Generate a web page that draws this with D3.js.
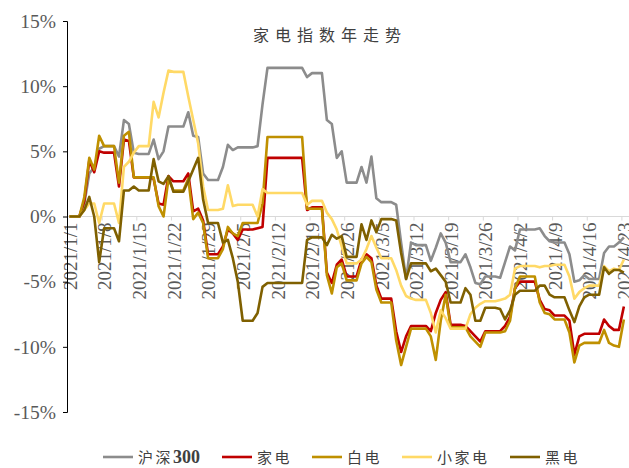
<!DOCTYPE html>
<html><head><meta charset="utf-8">
<script src="https://cdn.jsdelivr.net/npm/d3@7"></script>
<style>body{margin:0;background:#fff;} svg{display:block;}</style>
</head><body><svg id="c" width="629" height="468"></svg>
<script>
const title = "家电指数年走势";
const seriesNames = ["沪深300","家电","白电","小家电","黑电"];
const yTicks = [15,10,5,0,-5,-10,-15];
const xTickDates = ["2021-01-01","2021-01-08","2021-01-15","2021-01-22","2021-01-29","2021-02-05","2021-02-12","2021-02-19","2021-02-26","2021-03-05","2021-03-12","2021-03-19","2021-03-26","2021-04-02","2021-04-09","2021-04-16","2021-04-23"];
const dates = ["2021-01-01","2021-01-04","2021-01-05","2021-01-06","2021-01-07","2021-01-08",
"2021-01-11","2021-01-12","2021-01-13","2021-01-14","2021-01-15",
"2021-01-18","2021-01-19","2021-01-20","2021-01-21","2021-01-22",
"2021-01-25","2021-01-26","2021-01-27","2021-01-28","2021-01-29",
"2021-02-01","2021-02-02","2021-02-03","2021-02-04","2021-02-05",
"2021-02-08","2021-02-09","2021-02-10",
"2021-02-18","2021-02-19",
"2021-02-22","2021-02-23","2021-02-24","2021-02-25","2021-02-26",
"2021-03-01","2021-03-02","2021-03-03","2021-03-04","2021-03-05",
"2021-03-08","2021-03-09","2021-03-10","2021-03-11","2021-03-12",
"2021-03-15","2021-03-16","2021-03-17","2021-03-18","2021-03-19",
"2021-03-22","2021-03-23","2021-03-24","2021-03-25","2021-03-26",
"2021-03-29","2021-03-30","2021-03-31","2021-04-01","2021-04-02",
"2021-04-06","2021-04-07","2021-04-08","2021-04-09",
"2021-04-12","2021-04-13","2021-04-14","2021-04-15","2021-04-16",
"2021-04-19","2021-04-20","2021-04-21","2021-04-22","2021-04-23"];
const hs300 = [0, 1.0,3.3,3.8,5.2,5.4,
 4.6,7.4,7.1,4.9,4.8,
 5.9,4.4,5.0,6.9,6.9,
 8.0,6.2,6.1,3.3,2.8,
 3.8,5.5,5.1,5.3,5.3,
 5.4,8.6,11.4,
 10.7,11.0,
 7.4,7.1,4.5,5.0,2.6,
 3.8,2.6,4.6,1.4,1.1,
 0.9,-2.0,-4.8,-2.0,-2.2,
 -3.4,-2.4,-1.3,-2.0,-3.5,
 -2.9,-3.9,-5.1,-5.2,-4.6,
 -4.7,-3.5,-2.3,-2.6,-1.0,
 -0.9,-1.5,-1.9,-2.0,
 -2.9,-5.0,-4.9,-4.5,-4.8,
 -2.8,-2.3,-2.3,-2.0,-1.6];
const jiadian = [0, 1.2,4.3,3.4,5.0,4.9,
 2.3,5.9,5.8,3.0,3.0,
 2.9,1.0,0.9,3.1,2.7,
 3.3,0.4,0.6,-0.3,-2.9,
 -2.3,-1.0,-1.3,-1.8,-1.0,
 -0.9,-0.8,4.5,
 0.5,0.7,
 -4.3,-5.1,-3.7,-3.3,-4.6,
 -3.3,-2.9,-3.2,-5.3,-6.3,
 -8.8,-10.4,-9.2,-8.4,-8.4,
 -8.8,-7.4,-6.4,-5.8,-8.3,
 -8.4,-8.8,-9.2,-9.6,-8.8,
 -8.8,-8.4,-7.7,-5.5,-5.0,
 -6.4,-7.1,-7.2,-7.6,
 -8.0,-10.6,-9.2,-9.0,-9.0,
 -7.9,-8.4,-8.7,-8.7,-6.9];
const baidian = [0, 1.5,4.5,3.6,6.2,5.4,
 2.6,6.2,6.5,3.0,3.0,
 3.0,0.8,0.0,2.9,2.0,
 2.9,-0.2,0.3,-0.5,-3.2,
 -2.5,-0.8,-1.3,-1.5,-0.5,
 -0.5,1.0,6.1,
 0.6,0.6,
 -4.5,-5.9,-3.9,-3.6,-4.9,
 -3.6,-3.1,-3.5,-5.6,-6.6,
 -9.5,-11.4,-10.0,-8.6,-8.6,
 -9.2,-11.0,-8.0,-6.0,-8.5,
 -8.5,-9.2,-9.6,-10.0,-8.9,
 -8.9,-8.8,-8.0,-5.5,-4.6,
 -6.6,-7.4,-7.5,-7.9,
 -8.9,-11.2,-9.9,-9.7,-9.7,
 -8.7,-9.7,-9.9,-10.0,-7.9];
const xiaojiadian = [0, 0.5,1.0,1.0,-0.5,1.0,
 -0.5,3.8,4.2,4.9,5.4,
 8.8,7.6,9.5,11.2,11.1,
 9.2,7.4,5.6,2.3,0.5,
 0.6,2.4,0.8,0.9,0.9,
 0.0,2.1,1.8,
 0.9,1.2,
 0.3,-0.2,-1.0,-2.3,-3.6,
 -3.3,-2.5,-1.5,-2.4,-3.2,
 -4.1,-5.3,-6.1,-6.3,-6.4,
 -7.4,-8.9,-7.2,-7.8,-8.6,
 -8.6,-7.5,-7.0,-6.7,-6.5,
 -6.4,-6.3,-6.0,-4.0,-3.8,
 -3.9,-3.8,-3.8,-3.7,
 -4.6,-6.3,-5.8,-5.5,-5.3,
 -3.8,-4.2,-4.0,-4.1,-3.3];
const heidian = [0, 0.5,1.5,0.0,-3.5,-0.9,
 -1.9,2.0,2.0,2.3,2.0,
 4.4,2.7,2.5,3.1,1.9,
 2.7,3.6,4.5,1.3,-0.5,
 -2.0,-1.8,-3.2,-5.0,-8.0,
 -7.4,-5.4,-5.1,
 -1.8,-1.6,
 -2.2,-1.4,-1.7,-1.5,-3.1,
 -0.6,-1.8,-0.3,-1.2,-0.2,
 -0.3,-2.8,-4.8,-3.6,-3.6,
 -4.2,-4.0,-4.5,-5.0,-6.6,
 -5.5,-6.0,-8.0,-8.0,-7.0,
 -7.1,-7.9,-7.2,-6.0,-5.7,
 -5.3,-5.3,-6.0,-6.2,
 -7.2,-8.1,-6.9,-6.2,-6.0,
 -3.9,-4.4,-4.1,-4.1,-4.3];
const seriesColors = ["#8C8C8C","#C00000","#BF9000","#FFD966","#7F6000"];

const svg = d3.select("#c");
svg.append("rect").attr("width",629).attr("height",468).attr("fill","#fff");
const DAY = 86400000;
const parse = s => new Date(s + "T00:00:00Z");
const x0 = parse("2021-01-01"), x1 = new Date(parse("2021-04-23").getTime() + DAY);
const x = d3.scaleUtc().domain([x0, x1]).range([67, 67 + 113*4.95]);
const y = d3.scaleLinear().domain([-15, 15]).range([412, 21]);
const yZero = y(0);

// zero gridline
svg.append("line").attr("x1",67).attr("x2",629).attr("y1",yZero).attr("y2",yZero)
  .attr("stroke","#D9D9D9").attr("stroke-width",1);

// x axis (ticks + rotated labels)
const fmt = d => `${d.getUTCFullYear()}/${d.getUTCMonth()+1}/${d.getUTCDate()}`;
const xAxis = d3.axisBottom(x).tickValues(xTickDates.map(parse)).tickSize(4).tickFormat(fmt);
const gx = svg.append("g").attr("transform",`translate(0,${yZero})`).call(xAxis);
gx.select(".domain").remove();
gx.selectAll(".tick line").attr("stroke","#D9D9D9");
gx.selectAll(".tick text")
  .attr("transform","rotate(-90)")
  .attr("x",-6).attr("y",2.5).attr("dy","0.35em")
  .style("text-anchor","end")
  .attr("fill","#595959")
  .style("font-family","'Liberation Serif','Times New Roman',serif")
  .style("font-size","19px");

// y axis
const yAxis = d3.axisLeft(y).tickValues(yTicks).tickSize(4).tickPadding(7).tickFormat(d => d + "%");
const gy = svg.append("g").attr("transform","translate(67,0)").call(yAxis);
gy.select(".domain").attr("stroke","#000").attr("stroke-width",1);
gy.selectAll(".tick line").attr("stroke","#000");
gy.selectAll(".tick text").attr("fill","#595959")
  .style("font-family","'Liberation Serif','Times New Roman',serif")
  .style("font-size","19.5px");

// series
const allSeries = [hs300, jiadian, baidian, xiaojiadian, heidian];
const line = d3.line().x(d => x(d[0])).y(d => y(d[1]));
allSeries.forEach((vals, si) => {
  const pts = [];
  dates.forEach((ds, i) => {
    const t = parse(ds).getTime() + DAY/2;
    pts.push([new Date(t), vals[i]]);
    if (i < dates.length - 1) {
      const tn = parse(dates[i+1]).getTime() + DAY/2;
      if (tn - t > DAY*1.5) pts.push([new Date(tn - DAY), vals[i]]); // value held over non-trading days
    }
  });
  svg.append("path").datum(pts).attr("d", line).attr("fill","none")
    .attr("stroke", seriesColors[si]).attr("stroke-width",2.6)
    .attr("stroke-linejoin","round");
});

// title
svg.append("text").attr("x",330).attr("y",41).attr("text-anchor","middle")
  .attr("fill","#404040").style("font-family","'Noto Sans CJK SC',sans-serif")
  .style("font-size","16px").style("letter-spacing","6px").text(title);

// legend
const legendX = [103, 222, 312, 402, 510];
const legY = 457;
seriesNames.forEach((name, i) => {
  const g = svg.append("g");
  g.append("line").attr("x1",legendX[i]).attr("x2",legendX[i]+30).attr("y1",legY).attr("y2",legY)
    .attr("stroke",seriesColors[i]).attr("stroke-width",2.6);
  const t = g.append("text").attr("x",legendX[i]+35).attr("y",legY+6).attr("fill","#404040")
    .style("font-family","'Noto Sans CJK SC',sans-serif").style("font-size","15px").style("letter-spacing","2.5px");
  const m = name.match(/^(\D*)(\d*)$/);
  t.append("tspan").text(m[1]);
  if (m[2]) t.append("tspan").style("font-family","'Liberation Serif',serif").style("font-weight","bold")
    .style("font-size","18px").style("letter-spacing","0px").text(m[2]);
});
</script></body></html>
